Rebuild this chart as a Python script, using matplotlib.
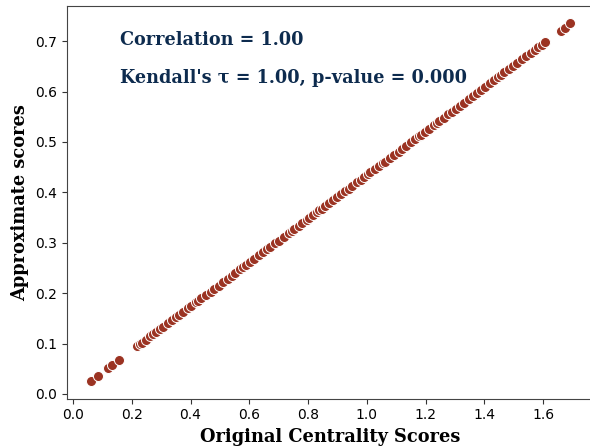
import matplotlib
matplotlib.use('Agg')
import matplotlib.pyplot as plt

#---- Original centrality scores vs approximate scores
original_scores = [0.060, 0.084, 0.120, 0.134, 0.156,
                   0.219, 0.228, 0.236, 0.248, 0.262, 0.271, 0.284, 0.297, 0.305, 0.322,
                   0.338, 0.352, 0.361, 0.374, 0.391, 0.403, 0.418, 0.425, 0.437, 0.452,
                   0.468, 0.481, 0.496, 0.512, 0.527, 0.541, 0.553, 0.568, 0.579, 0.588,
                   0.602, 0.617, 0.633, 0.648, 0.661, 0.672, 0.688, 0.701, 0.719, 0.734,
                   0.746, 0.752, 0.768, 0.781, 0.795, 0.803, 0.817, 0.829, 0.838, 0.846,
                   0.859, 0.872, 0.884, 0.897, 0.912, 0.925, 0.938, 0.951, 0.967, 0.979,
                   0.991, 1.004, 1.012, 1.027, 1.043, 1.055, 1.062, 1.078, 1.091, 1.108,
                   1.119, 1.134, 1.149, 1.163, 1.176, 1.184, 1.197, 1.211, 1.228, 1.239,
                   1.246, 1.261, 1.277, 1.289, 1.302, 1.318, 1.331, 1.347, 1.362, 1.376,
                   1.388, 1.401, 1.418, 1.432, 1.447, 1.455, 1.468, 1.483, 1.497, 1.512,
                   1.528, 1.543, 1.558, 1.571, 1.583, 1.596, 1.607, 1.660, 1.675, 1.692]
approx_scores = [0.026, 0.036, 0.052, 0.058, 0.068,
                 0.095, 0.099, 0.102, 0.108, 0.114, 0.118, 0.123, 0.129, 0.132, 0.140,
                 0.147, 0.153, 0.157, 0.162, 0.170, 0.175, 0.182, 0.185, 0.190, 0.196,
                 0.203, 0.209, 0.215, 0.222, 0.229, 0.235, 0.240, 0.247, 0.251, 0.255,
                 0.261, 0.268, 0.275, 0.281, 0.287, 0.292, 0.299, 0.304, 0.312, 0.319,
                 0.324, 0.327, 0.334, 0.339, 0.345, 0.349, 0.355, 0.360, 0.364, 0.367,
                 0.373, 0.379, 0.384, 0.390, 0.396, 0.402, 0.407, 0.413, 0.420, 0.425,
                 0.430, 0.436, 0.440, 0.446, 0.453, 0.458, 0.461, 0.468, 0.474, 0.481,
                 0.486, 0.492, 0.499, 0.505, 0.511, 0.514, 0.520, 0.526, 0.533, 0.538,
                 0.541, 0.548, 0.555, 0.560, 0.565, 0.572, 0.578, 0.585, 0.592, 0.598,
                 0.603, 0.608, 0.616, 0.622, 0.628, 0.632, 0.638, 0.644, 0.650, 0.657,
                 0.664, 0.670, 0.677, 0.682, 0.688, 0.693, 0.698, 0.721, 0.727, 0.735]

corr_text = 'Correlation = 1.00'
kendall_text = "Kendall's τ = 1.00, p-value = 0.000"

fig = plt.figure(figsize=(5.9, 4.48), dpi=100)
ax = fig.add_axes([0.113, 0.11, 0.894, 0.8775])

ax.scatter(original_scores, approx_scores, s=52, color='#9b3322',
           edgecolor='white', linewidth=0.7)

ax.set_xticks([0.0, 0.2, 0.4, 0.6, 0.8, 1.0, 1.2, 1.4, 1.6])
ax.set_yticks([0.0, 0.1, 0.2, 0.3, 0.4, 0.5, 0.6, 0.7])
ax.tick_params(labelsize=10, color='#333333')
for sp in ax.spines.values():
    sp.set_color('#444444')

ax.set_xlabel('Original Centrality Scores', family='DejaVu Serif',
              fontweight='bold', fontsize=12.8)
ax.set_ylabel('Approximate scores', family='DejaVu Serif',
              fontweight='bold', fontsize=12.8)

ax.text(0.101, 0.913, corr_text, transform=ax.transAxes, va='center',
        family='DejaVu Serif', fontweight='bold', fontsize=12.7, color='#0d2b4e')
ax.text(0.101, 0.816, kendall_text, transform=ax.transAxes, va='center',
        family='DejaVu Serif', fontweight='bold', fontsize=12.7, color='#0d2b4e')

fig.savefig('out.png', dpi=100)
